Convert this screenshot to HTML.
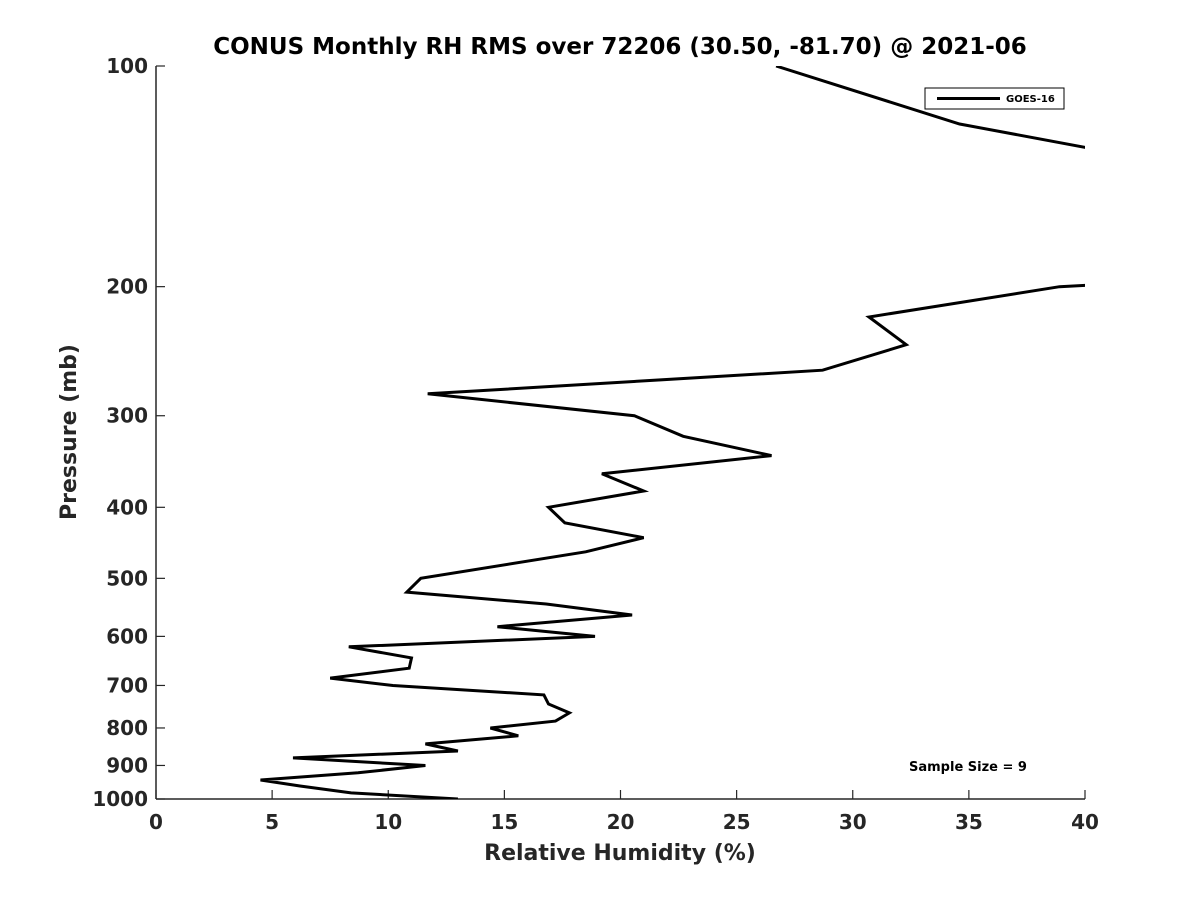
<!DOCTYPE html>
<html><head><meta charset="utf-8"><style>
body{margin:0;background:#fff;}
svg text{font-family:"DejaVu Sans","Liberation Sans",sans-serif;font-weight:bold;fill:#262626;}
</style></head><body>
<svg id="chart" width="1200" height="900" xmlns="http://www.w3.org/2000/svg">
<rect width="1200" height="900" fill="#fff"/>
<defs><clipPath id="pc"><rect x="156" y="66" width="929" height="733"/></clipPath></defs>
<text x="620" y="54" font-size="23" text-anchor="middle" style="fill:#000">CONUS Monthly RH RMS over 72206 (30.50, -81.70) @ 2021-06</text>
<g id="axes"></g>
<path id="series" fill="none" stroke="#000" stroke-width="3" clip-path="url(#pc)"/>
<g>
<rect x="925" y="88" width="139" height="21" fill="#fff" stroke="#000" stroke-width="1"/>
<line x1="937" y1="98.5" x2="1000" y2="98.5" stroke="#000" stroke-width="3"/>
<text x="1006" y="102" font-size="10" style="fill:#000">GOES-16</text>
</g>
<text x="968" y="771" font-size="13" text-anchor="middle" style="fill:#000">Sample Size = 9</text>
<text x="620" y="860" font-size="22" text-anchor="middle">Relative Humidity (%)</text>
<text x="0" y="0" font-size="22" text-anchor="middle" transform="translate(76,432) rotate(-90)">Pressure (mb)</text>
</svg>
<script>
const rhValues=[26.7,34.6,40.5,null,40.2,38.9,30.7,32.3,28.7,11.7,20.6,22.7,26.5,19.2,21.0,16.9,17.6,21.0,18.5,11.4,10.8,16.8,20.5,14.7,18.9,8.3,11.0,10.9,7.5,10.2,16.7,16.9,17.8,17.2,14.4,15.6,11.6,13.0,5.9,11.6,8.7,4.5,6.2,8.4,13.0];
const pressureLevels=[100,120,130,null,199,200,220,240,260,280,300,320,340,360,380,400,420,440,460,500,522,542,561,582,600,620,642,663,684,700,721,742,763,783,800,820,841,860,879,900,921,942,960,981,1000];
const xTicks=[0,5,10,15,20,25,30,35,40];
const yTicks=[100,200,300,400,500,600,700,800,900,1000];
const X0=156,X1=1085,Y0=66,Y1=799;
const xs=v=>X0+(v-0)/40*(X1-X0);
const ys=p=>Y0+(Math.log10(p)-2)*(Y1-Y0);
const NS="http://www.w3.org/2000/svg";
const ax=document.getElementById('axes');
function mk(t,a){const e=document.createElementNS(NS,t);for(const k in a)e.setAttribute(k,a[k]);ax.appendChild(e);return e;}
let l=mk('line',{x1:X0,y1:Y1,x2:X1,y2:Y1,stroke:'#262626','stroke-width':1.5});


l=mk('line',{x1:X0,y1:Y0,x2:X0,y2:Y1,stroke:'#262626','stroke-width':1.5});


xTicks.forEach(v=>{const x=xs(v);
 mk('line',{x1:x,y1:Y1,x2:x,y2:Y1-9,stroke:'#262626','stroke-width':1.2});
 const t=mk('text',{x:x,y:Y1+30,'font-size':20,'text-anchor':'middle'});t.textContent=v;
 
 });
yTicks.forEach(p=>{const y=ys(p);
 mk('line',{x1:X0,y1:y,x2:X0+9,y2:y,stroke:'#262626','stroke-width':1.2});
 const t=mk('text',{x:X0-8,y:y+7,'font-size':20,'text-anchor':'end'});t.textContent=p;
 
 });
let d='',pen=false;
rhValues.forEach((v,i)=>{const p=pressureLevels[i];
 if(v==null||p==null){pen=false;return;}
 d+=(pen?'L':'M')+xs(v).toFixed(1)+' '+ys(p).toFixed(1)+' ';pen=true;});
document.getElementById('series').setAttribute('d',d);
</script>
</body></html>
